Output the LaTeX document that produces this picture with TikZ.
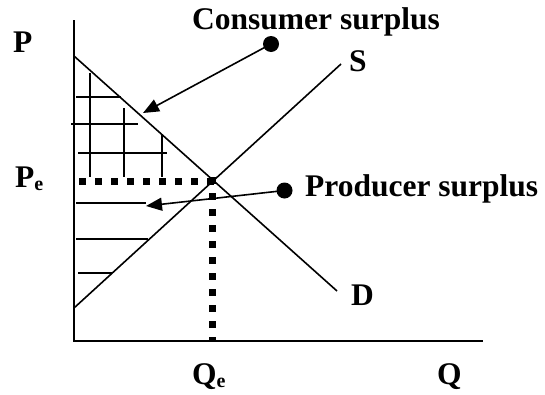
\documentclass[tikz,border=0pt]{standalone}
\usepackage{fontspec}
\setmainfont{Liberation Serif}
\usetikzlibrary{arrows.meta}
\tikzset{
  axis/.style={line width=2pt},
  curve/.style={line width=1.6pt},
  hatch/.style={line width=2pt},
  dotline/.style={line width=7pt, dash pattern=on 7pt off 9pt},
  lbl/.style={font=\fontsize{31.5}{31.5}\selectfont\bfseries, inner sep=0pt, anchor=base west},
  dotmark/.style={circle, fill=black, minimum size=16pt, inner sep=0pt},
  pointer/.style={line width=1.6pt, -{Triangle[length=16pt,width=13pt]}}
}
\newcommand{\subE}{\raisebox{-3pt}{\fontsize{20}{20}\selectfont e}}
\begin{document}
\begin{tikzpicture}[x=1pt,y=-1pt]
\useasboundingbox (0,0) rectangle (545,394);
% axes
\coordinate (ytop) at (74,20);
\coordinate (origin) at (74,341);
\coordinate (xend) at (483,341);
\draw[axis] (ytop) -- (origin) -- (xend);
% demand and supply
\coordinate (d0) at (74,56);
\coordinate (d1) at (337,291);
\coordinate (s0) at (74,308);
\coordinate (s1) at (341,64);
\draw[curve] (d0) -- (d1);
\draw[curve] (s0) -- (s1);
% consumer hatching
\draw[hatch] (90,73) -- (90,177);
\draw[hatch] (124,108) -- (124,177);
\draw[hatch] (162,135) -- (162,177);
\draw[hatch] (76,97) -- (121,97);
\draw[hatch] (71,124) -- (138,124);
\draw[hatch] (78,153) -- (167,153);
% producer hatching
\draw[hatch] (76,203) -- (146,203);
\draw[hatch] (76,239) -- (148,239);
\draw[hatch] (78,273) -- (112,273);
% equilibrium dotted lines
\coordinate (eq) at (212,181);
\coordinate (peL) at (79,181);
\coordinate (qeB) at (212,340);
\draw[dotline] (peL) -- (216,181);
\draw[dotline] (212,177) -- (qeB);
% labels
\node[lbl] (cs) at (192,29) {Consumer surplus};
\node[lbl] (ps) at (305,196) {Producer surplus};
\node[lbl] (P) at (13,52) {P};
\node[lbl] (Pe) at (15,187) {P\subE};
\node[lbl] (S) at (349,71) {S};
\node[lbl] (D) at (351,305) {D};
\node[lbl] (Qe) at (192,384) {Q\subE};
\node[lbl] (Q) at (437,384) {Q};
% pointer dots and arrows
\node[dotmark] (csdot) at (271,44) {};
\node[dotmark] (psdot) at (284.5,190.5) {};
\coordinate (cstip) at (143,113);
\coordinate (pstip) at (146,206);
\draw[pointer] (csdot.center) -- (cstip);
\draw[pointer] (psdot.center) -- (pstip);
\end{tikzpicture}
\end{document}
